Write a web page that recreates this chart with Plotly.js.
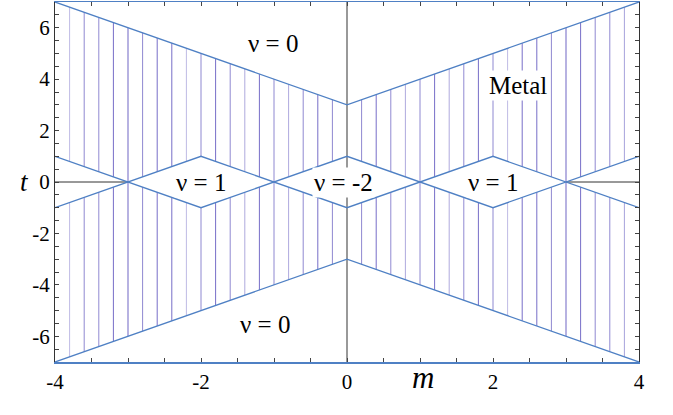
<!DOCTYPE html>
<html>
<head>
<meta charset="utf-8">
<script src="https://cdn.plot.ly/plotly-3.0.1.min.js"></script>
<style>
  html, body { margin: 0; padding: 0; background: #fff; }
  #chart { width: 673px; height: 415px; }
</style>
</head>
<body>
<div id="chart"></div>
<script>
// boundaries of the gapped regions (m, t)
var upperM = [-4, 0, 4];
var upperT = [7, 3, 7];
var lowerM = [-4, 0, 4];
var lowerT = [-7, -3, -7];
var zigM = [-4, -2, 0, 2, 4];
var zigAT = [1, -1, 1, -1, 1];
var zigBT = [-1, 1, -1, 1, -1];

// m values where the spectrum was sampled (vertical dotted lines)
var sampleM = [-3.8, -3.6, -3.4, -3.2, -3.0, -2.8, -2.6, -2.4, -2.2, -2.0,
               -1.8, -1.6, -1.4, -1.2, -1.0, -0.8, -0.6, -0.4, -0.2,
               0.2, 0.4, 0.6, 0.8, 1.0, 1.2, 1.4, 1.6, 1.8, 2.0,
               2.2, 2.4, 2.6, 2.8, 3.0, 3.2, 3.4, 3.6, 3.8];
var sampleShade = [0.4, 0.7, 0.7, 0.85, 0.9, 0.7, 0.85, 0.85, 0.4, 0.7,
                   0.85, 0.7, 0.5, 0.85, 0.7, 0.5, 0.7, 0.85, 0.7,
                   0.7, 0.85, 0.7, 0.5, 0.7, 0.85, 0.5, 0.7, 0.85, 0.7,
                   0.4, 0.85, 0.85, 0.7, 0.9, 0.85, 0.7, 0.7, 0.55, 0.4];

var xTicks = [-4, -2, 0, 2, 4];
var xTickText = ['-4', '-2', '0', '2', '4'];
var yTicks = [-6, -4, -2, 0, 2, 4, 6];
var yTickText = ['-6', '-4', '-2', '0', '2', '4', '6'];

var blue = '#4f80c4';
var serif = 'Times New Roman, Liberation Serif, serif';

var data = [];

// metal region: dotted vertical lines
for (var i = 0; i < sampleM.length; i++) {
  data.push({
    x: [sampleM[i], sampleM[i]], y: [-7, 7],
    mode: 'lines', type: 'scatter', hoverinfo: 'skip',
    line: {color: 'rgba(95,85,190,' + sampleShade[i] + ')', width: 1}
  });
}

// white out the gapped regions
data.push({x: upperM, y: upperT, fill: 'toself', fillcolor: '#fff',
  mode: 'lines', line: {width: 0}, hoverinfo: 'skip'});
data.push({x: lowerM, y: lowerT, fill: 'toself', fillcolor: '#fff',
  mode: 'lines', line: {width: 0}, hoverinfo: 'skip'});
data.push({x: zigM, y: zigAT, mode: 'lines', line: {width: 0}, hoverinfo: 'skip'});
data.push({x: zigM, y: zigBT, fill: 'tonexty', fillcolor: '#fff',
  mode: 'lines', line: {width: 0}, hoverinfo: 'skip'});

// t = 0 segments where |m| > 3
data.push({x: [-4, -3], y: [0, 0], mode: 'lines',
  line: {color: '#333', width: 1}, hoverinfo: 'skip'});
data.push({x: [3, 4], y: [0, 0], mode: 'lines',
  line: {color: '#333', width: 1}, hoverinfo: 'skip'});
// m = 0 line
data.push({x: [0, 0], y: [-7, 7], mode: 'lines',
  line: {color: '#999', width: 2}, hoverinfo: 'skip'});

// boundary lines
var bounds = [[upperM, upperT], [lowerM, lowerT], [zigM, zigAT], [zigM, zigBT]];
for (var b of bounds) {
  data.push({x: b[0], y: b[1], mode: 'lines',
    line: {color: blue, width: 1.3}, hoverinfo: 'skip'});
}

function label(text, x, y) {
  return {text: text, x: x, y: y, xref: 'x', yref: 'y', showarrow: false,
    bgcolor: '#fff', borderpad: 1,
    font: {family: serif, size: 25, color: '#000'}};
}

var layout = {
  width: 673, height: 415,
  margin: {l: 55, r: 34, t: 2, b: 53},
  showlegend: false,
  paper_bgcolor: '#fff', plot_bgcolor: '#fff',
  font: {family: serif, size: 21, color: '#000'},
  xaxis: {
    range: [-4, 4], tickvals: xTicks, ticktext: xTickText, ticks: 'inside', ticklen: 4,
    tickcolor: '#444', showgrid: false, zeroline: false,
    showline: true, linecolor: blue, linewidth: 1.5, mirror: 'ticks',
    minor: {dtick: 0.5, ticks: 'inside', ticklen: 4, tickcolor: '#444'},
    tickfont: {family: serif, size: 21, color: '#000'}
  },
  yaxis: {
    range: [-7, 7], tickvals: yTicks, ticktext: yTickText, ticks: 'inside', ticklen: 4,
    tickcolor: '#444', showgrid: false, zeroline: false,
    showline: true, linecolor: '#333', linewidth: 1, mirror: 'ticks',
    minor: {dtick: 0.5, ticks: 'inside', ticklen: 4, tickcolor: '#444'},
    tickfont: {family: serif, size: 21, color: '#000'}
  },
  annotations: [
    label('\u03bd = 0', -1.01, 5.37),
    label('Metal', 2.34, 3.77),
    label('\u03bd = 1', -2.0, 0),
    label('\u03bd = -2', -0.05, 0),
    label('\u03bd = 1', 2.0, 0),
    label('\u03bd = 0', -1.12, -5.56),
    {text: '<i>t</i>', xref: 'paper', yref: 'y', x: -0.063, y: 0, showarrow: false,
      font: {family: serif, size: 27, color: '#000'}},
    {text: '<i>m</i>', xref: 'x', yref: 'paper', x: 1.04, y: -0.097, showarrow: false,
      font: {family: serif, size: 31, color: '#000'}}
  ]
};

Plotly.newPlot('chart', data, layout, {displayModeBar: false, staticPlot: true});
</script>
</body>
</html>
